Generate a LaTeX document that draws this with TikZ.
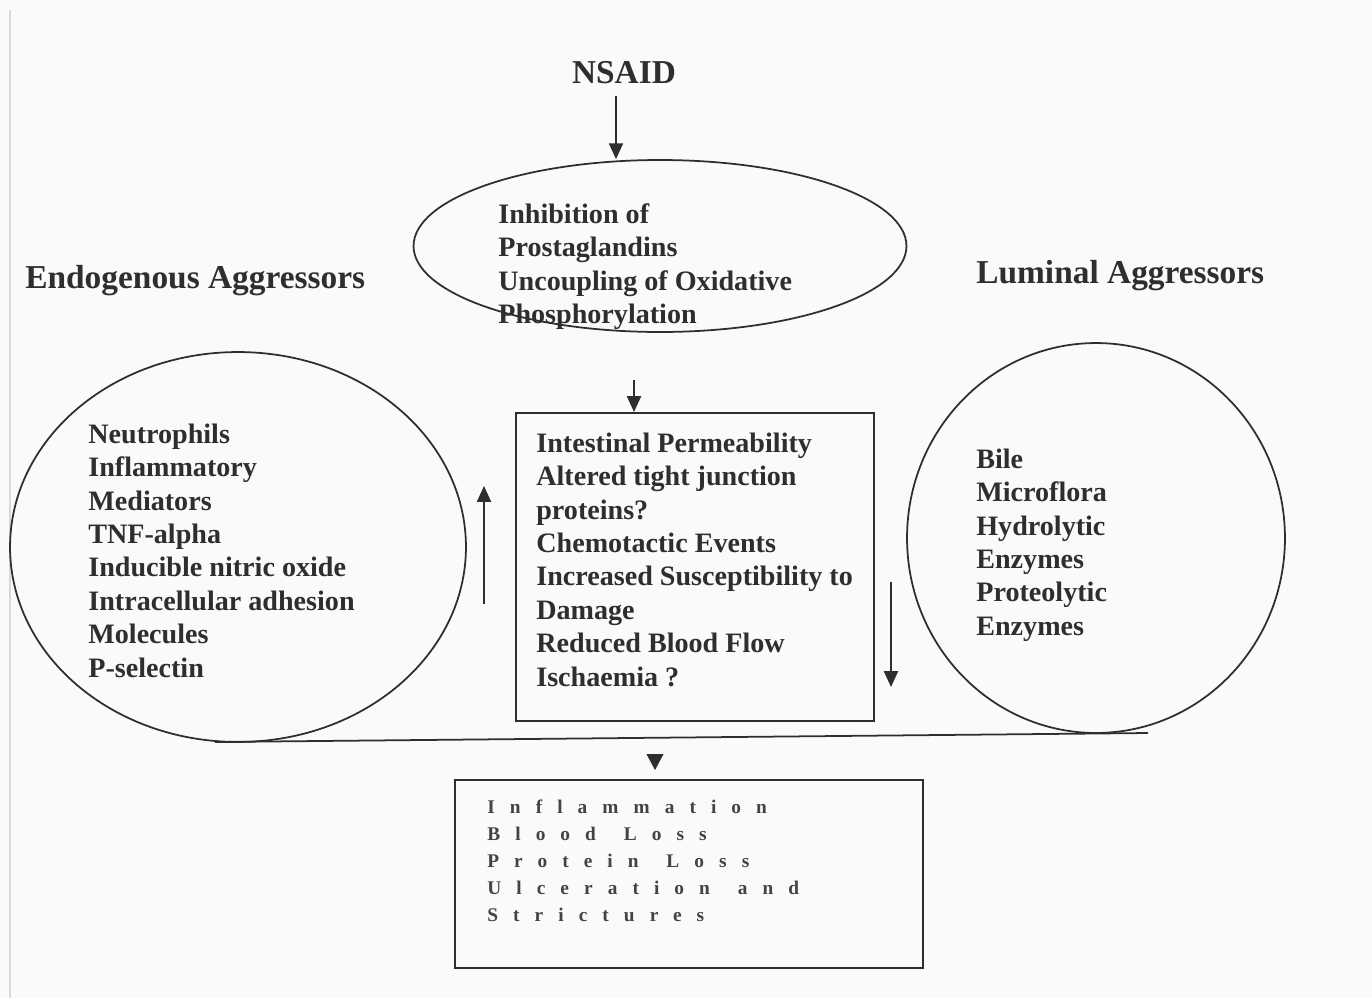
\documentclass[tikz,border=0pt]{standalone}
\usepackage{fontspec}
\setmainfont{Liberation Serif}
\newfontfamily\spaced{Liberation Serif}[LetterSpace=78,WordSpace=1.4]
\usetikzlibrary{shapes.geometric,arrows.meta}
\definecolor{ink}{HTML}{2E2E2E}
\definecolor{bg}{HTML}{FAFAFA}
\begin{document}
\begin{tikzpicture}[x=0.02cm,y=-0.02cm,
  txt/.style={anchor=north west, inner sep=0pt, align=left, text=ink, font=\bfseries\fontsize{16}{19}\selectfont},
  head/.style={anchor=base west, inner sep=0pt, text=ink, font=\bfseries\fontsize{19}{22}\selectfont},
  outline/.style={draw=ink, line width=1pt, inner sep=0pt},
  arr/.style={draw=ink, line width=1pt, -{Triangle[width=8pt,length=9pt]}}]
% canvas
\fill[bg] (0,0) rectangle (1372,998);
\useasboundingbox (0,0) rectangle (1372,998);
\draw[black!15, line width=1pt] (10,10) -- (10,998);

% shapes
\node[outline, ellipse, minimum width=9.86cm, minimum height=3.44cm] (topell) at (660,246) {};
\node[outline, ellipse, minimum width=9.12cm, minimum height=7.8cm] (leftell) at (238,547) {};
\node[outline, ellipse, minimum width=7.56cm, minimum height=7.8cm] (rightell) at (1096,538) {};
\node[outline, rectangle, line width=1.2pt, minimum width=7.16cm, minimum height=6.16cm] (midbox) at (695,567) {};
\node[outline, rectangle, line width=1.3pt, minimum width=9.36cm, minimum height=3.76cm] (botbox) at (689,874) {};

% headings
\node[head, anchor=base] (nsaid) at (624,83) {NSAID};
\node[head] (endo) at (25,288) {Endogenous Aggressors};
\node[head] (lumi) at (976,283) {Luminal Aggressors};

% texts
\node[txt] (toptxt) at (498,199.6) {\strut Inhibition of\\Prostaglandins\\Uncoupling of Oxidative\\Phosphorylation};
\node[txt] (lefttxt) at (88,419.6) {\strut Neutrophils\\Inflammatory\\Mediators\\TNF-alpha\\Inducible nitric oxide\\Intracellular adhesion\\Molecules\\P-selectin};
\node[txt] (midtxt) at (536,428.6) {\strut Intestinal Permeability\\Altered tight junction\\proteins?\\Chemotactic Events\\Increased Susceptibility to\\Damage\\Reduced Blood Flow\\Ischaemia ?};
\node[txt] (righttxt) at (976,444.6) {\strut Bile\\Microflora\\Hydrolytic\\Enzymes\\Proteolytic\\Enzymes};
\node[txt, font=\spaced\bfseries\fontsize{11}{15.4}\selectfont, text=ink!90] (bottxt) at (487,794) {\strut Inflammation\\Blood Loss\\Protein Loss\\Ulceration and\\Strictures};

% connectors
\coordinate (ax1) at (616,96);
\draw[arr] (ax1) -- (topell.north -| ax1);
\coordinate (c2) at (634,380);
\draw[arr] (c2) -- (midbox.north -| c2);
\coordinate (up1) at (484,604);
\coordinate (up2) at (484,486);
\draw[arr] (up1) -- (up2);
\coordinate (dn1) at (891,582);
\coordinate (dn2) at (891,687);
\draw[arr] (dn1) -- (dn2);
\coordinate (hl1) at (215,742);
\coordinate (hl2) at (1148,733);
\draw[draw=ink, line width=1pt] (hl1) -- (hl2);
\coordinate (bt1) at (655,770);
\coordinate (bt0) at (655,754);
\draw[draw=ink, line width=0.5pt, -{Triangle[width=9.5pt,length=9pt]}] (bt0) -- (bt1);
\end{tikzpicture}
\end{document}
